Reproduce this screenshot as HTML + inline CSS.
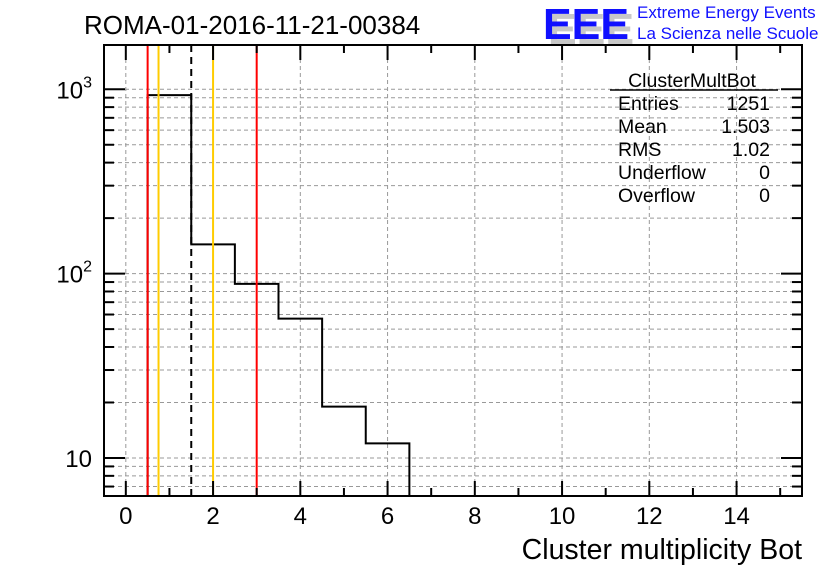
<!DOCTYPE html>
<html><head><meta charset="utf-8"><style>
body{margin:0;background:#fff;}
svg text{font-family:"Liberation Sans",sans-serif;}
</style></head><body>
<svg id="chart" width="836" height="572" xmlns="http://www.w3.org/2000/svg">
<rect width="836" height="572" fill="#fff"/>
<text x="84" y="34" font-size="26">ROMA-01-2016-11-21-00384</text>
<g>
<text x="548" y="44" font-size="44" font-weight="bold" fill="#c8c8c8" textLength="86" lengthAdjust="spacingAndGlyphs">EEE</text>
<text x="543" y="39" font-size="44" font-weight="bold" fill="#1010ff" textLength="86" lengthAdjust="spacingAndGlyphs">EEE</text>
<text x="637" y="18" font-size="17" fill="#1010ff">Extreme Energy Events</text>
<text x="637" y="39" font-size="17" fill="#1010ff">La Scienza nelle Scuole</text>
</g>
<g id="grid"></g>
<g id="marks"></g>
<g id="axes"></g>
<g font-size="19.5">
<text x="692" y="87" text-anchor="middle">ClusterMultBot</text>
<line x1="610" y1="90" x2="778" y2="90" stroke="#000" stroke-width="1.5"/>
<text x="618" y="110">Entries</text><text x="770" y="110" text-anchor="end">1251</text>
<text x="618" y="133">Mean</text><text x="770" y="133" text-anchor="end">1.503</text>
<text x="618" y="156">RMS</text><text x="770" y="156" text-anchor="end">1.02</text>
<text x="618" y="179">Underflow</text><text x="770" y="179" text-anchor="end">0</text>
<text x="618" y="202">Overflow</text><text x="770" y="202" text-anchor="end">0</text>
</g>
<text x="802" y="559" font-size="28.5" text-anchor="end">Cluster multiplicity Bot</text>
</svg>
<script>
const binLow = [0.5,1.5,2.5,3.5,4.5,5.5];
const binCounts = [930,144,88,57,19,12];
const xTicks = [0,2,4,6,8,10,12,14];
const yMajor = [10,100,1000];
const yMajorLabels = ["10","10²","10³"];
const redLines = [0.5,3.0];
const yellowLines = [0.75,2.0];
const dashedLines = [1.5];

const NS="http://www.w3.org/2000/svg";
const L=104,R=802,T=45,B=496;
const xmin=-0.5,xmax=15.5;
const X=v=>L+(v-xmin)/(xmax-xmin)*(R-L);
const lymin=Math.log10(6.22),lymax=Math.log10(1738);
const Y=v=>B-(Math.log10(v)-lymin)/(lymax-lymin)*(B-T);
function mk(tag,attrs,parent){const e=document.createElementNS(NS,tag);for(const k in attrs)e.setAttribute(k,attrs[k]);parent.appendChild(e);return e;}
const grid=document.getElementById('grid'),marks=document.getElementById('marks'),axes=document.getElementById('axes');

const yTicks=[];
for(let d=1;d<=1000;d*=10)for(let m=1;m<10;m++){const v=m*d;if(v>=6.22&&v<=1738)yTicks.push(v);}
yTicks.forEach(v=>{const l=mk('line',{x1:L,x2:R,y1:Y(v),y2:Y(v),stroke:'#999','stroke-dasharray':'4,3','stroke-width':1},grid);
});
xTicks.forEach(v=>{const l=mk('line',{x1:X(v),x2:X(v),y1:T,y2:B,stroke:'#999','stroke-dasharray':'4,3','stroke-width':1},grid);
});

let d='M'+X(binLow[0])+','+B;
binLow.forEach((lo,i)=>{d+=' L'+X(lo)+','+Y(binCounts[i])+' L'+X(lo+1)+','+Y(binCounts[i]);});
d+=' L'+X(binLow[binLow.length-1]+1)+','+B;
const h=mk('path',{d:d,fill:'none',stroke:'#000','stroke-width':2},marks);


redLines.forEach(v=>{const l=mk('line',{x1:X(v),x2:X(v),y1:T,y2:B,stroke:'#ff0000','stroke-width':2},marks);
});
yellowLines.forEach(v=>{const l=mk('line',{x1:X(v),x2:X(v),y1:T,y2:B,stroke:'#ffcc00','stroke-width':2},marks);
});
dashedLines.forEach(v=>{const l=mk('line',{x1:X(v),x2:X(v),y1:T,y2:B,stroke:'#000','stroke-width':2,'stroke-dasharray':'7,5'},marks);
});

const fr=mk('rect',{x:L,y:T,width:R-L,height:B-T,fill:'none',stroke:'#000','stroke-width':2},axes);

for(let v=0;v<=15;v++){const major=v%2===0,len=major?15:8;
 mk('line',{x1:X(v),x2:X(v),y1:B,y2:B-len,stroke:'#000','stroke-width':2},axes);
 mk('line',{x1:X(v),x2:X(v),y1:T,y2:T+len,stroke:'#000','stroke-width':2},axes);}
xTicks.forEach(v=>{const t=mk('text',{x:X(v),y:B+28,'font-size':24,'text-anchor':'middle'},axes);t.textContent=v;
 });
yTicks.forEach(v=>{const major=yMajor.includes(v),len=major?21:10;
 mk('line',{x1:L,x2:L+len,y1:Y(v),y2:Y(v),stroke:'#000','stroke-width':2},axes);
 mk('line',{x1:R,x2:R-len,y1:Y(v),y2:Y(v),stroke:'#000','stroke-width':2},axes);});
yMajor.forEach((v,i)=>{const t=mk('text',{x:92,y:Y(v)+9,'font-size':24,'text-anchor':'end'},axes);
 const lab=yMajorLabels[i];
 if(lab.length>2){t.textContent='10';const s=mk('tspan',{dy:-11,'font-size':16},t);s.textContent=lab==='10²'?'2':'3';}
 else t.textContent=lab;
 });
</script>
</body></html>
